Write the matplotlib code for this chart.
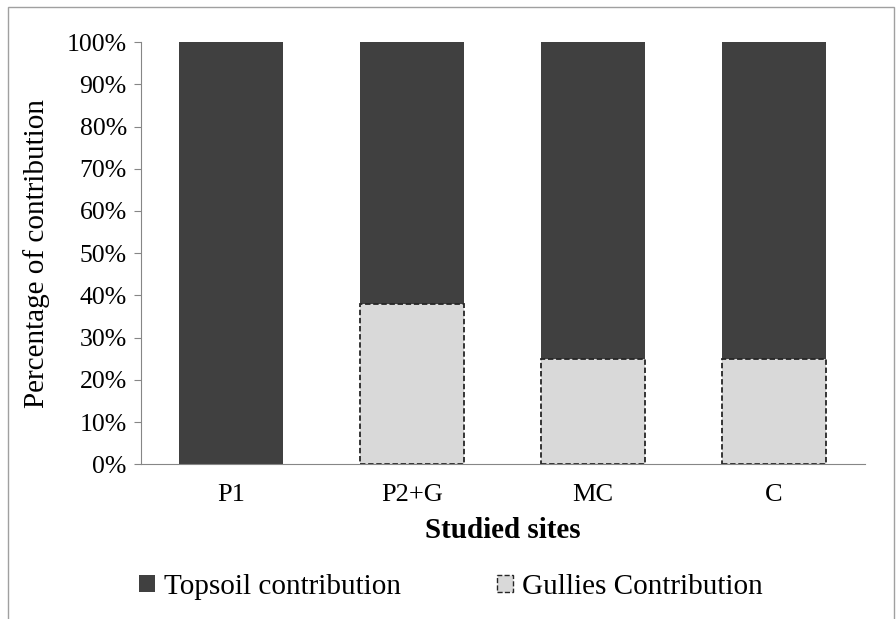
import matplotlib.pyplot as plt
from matplotlib.patches import Rectangle
from matplotlib.ticker import PercentFormatter

plt.rcParams['font.family'] = ['Liberation Serif', 'DejaVu Serif']

sites = ['P1', 'P2+G', 'MC', 'C']
gullies = [0, 38, 25, 25]
topsoil = [100, 62, 75, 75]

fig = plt.figure(figsize=(8.96, 6.19), dpi=100)
ax = fig.add_axes([0.157, 0.250, 0.808, 0.682])

x = range(len(sites))
w = 0.575
ax.bar(x, topsoil, w, bottom=gullies, color='#404040', label='Topsoil contribution')
gb = ax.bar(x, gullies, w, color='#d9d9d9', edgecolor='#262626', linestyle=(0, (3, 1.5)),
            linewidth=1.3, label='Gullies Contribution')
# no outline for empty bar
for b, v in zip(gb, gullies):
    if v == 0:
        b.set_visible(False)

ax.set_xlim(-0.5, len(sites) - 0.5)
ax.set_ylim(0, 100)
ax.set_yticks(range(0, 101, 10))
ax.yaxis.set_major_formatter(PercentFormatter(decimals=0))
ax.set_xticks(list(x))
ax.set_xticklabels(sites)
ax.tick_params(axis='y', labelsize=18.5, length=5, color='#868686', direction='out', pad=5)
ax.tick_params(axis='x', labelsize=19, length=0, pad=14)

for s in ['top', 'right']:
    ax.spines[s].set_visible(False)
ax.spines['left'].set_color('#868686')
ax.spines['bottom'].set_color('#868686')

ax.set_ylabel('Percentage of contribution', fontsize=21, labelpad=12)
ax.set_xlabel('Studied sites', fontsize=21, fontweight='bold', labelpad=8)

h1 = Rectangle((0, 0), 1, 1, facecolor='#404040')
h2 = Rectangle((0, 0), 1, 1, facecolor='#d9d9d9', edgecolor='#262626', linestyle='--', linewidth=1)
fig.legend([h1, h2], ['Topsoil contribution', 'Gullies Contribution'], loc='center',
           bbox_to_anchor=(0.503, 0.052), ncol=2, frameon=False, fontsize=21,
           handlelength=0.55, handleheight=0.55, handletextpad=0.3, columnspacing=3.3,
           borderpad=0)

fig.patches.append(Rectangle((8 / 896, -0.1), 886 / 896, 1.1 - 7 / 619,
                             transform=fig.transFigure, fill=False,
                             edgecolor='#a0a0a0', linewidth=1))

fig.savefig('out.png', dpi=100)
